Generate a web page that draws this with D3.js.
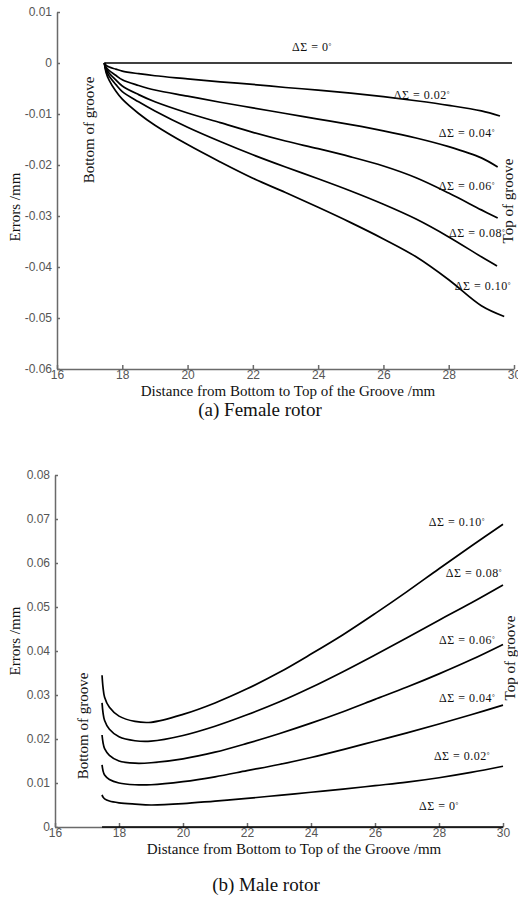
<!DOCTYPE html>
<html>
<head>
<meta charset="utf-8">
<script src="https://cdn.jsdelivr.net/npm/d3@7"></script>
<style>
  body { margin: 0; background: #fff; }
  svg { display: block; }
  .tick text { font-family: "Liberation Sans", Arial, sans-serif; font-size: 12px; fill: #555; }
  .domain, .tick line { stroke: #6a6a6a; stroke-width: 1.5px; }
  .serif { font-family: "Liberation Serif", "Times New Roman", serif; fill: #111; }
</style>
</head>
<body>
<script>
//chart values
var seriesNames = ["0", "0.02", "0.04", "0.06", "0.08", "0.10"];

//(a) female rotor: common x grid, last point of each curve given separately
var femaleX = [17.45, 17.5, 17.6, 17.8, 18, 18.5, 19, 20, 21, 22, 23, 24, 25, 26, 27, 28, 29];
var femaleEndX = [29.94, 29.57, 29.5, 29.5, 29.48, 29.7];
var female0   = [0, 0, 0, 0, 0, 0, 0, 0, 0, 0, 0, 0, 0, 0, 0, 0, 0, 0];
var female002 = [0, -0.0004, -0.0008, -0.0012, -0.0016, -0.0021, -0.0025, -0.0031, -0.0037, -0.0042, -0.0048, -0.0053, -0.0059, -0.0066, -0.0074, -0.0083, -0.0094, -0.0104];
var female004 = [0, -0.0008, -0.0015, -0.0024, -0.0033, -0.0044, -0.0053, -0.0065, -0.0077, -0.0088, -0.0099, -0.011, -0.0121, -0.0133, -0.0147, -0.0164, -0.0186, -0.0204];
var female006 = [0, -0.0011, -0.002, -0.0033, -0.0045, -0.0062, -0.0076, -0.0098, -0.0117, -0.0136, -0.0153, -0.0168, -0.0184, -0.0202, -0.0225, -0.0255, -0.0288, -0.0304];
var female008 = [0, -0.0014, -0.0026, -0.0042, -0.0056, -0.0076, -0.0094, -0.0126, -0.0154, -0.018, -0.0204, -0.0227, -0.0251, -0.0277, -0.0306, -0.0341, -0.038, -0.0398];
var female010 = [0, -0.0018, -0.0034, -0.0055, -0.0071, -0.0099, -0.0122, -0.016, -0.0194, -0.0226, -0.0254, -0.0283, -0.0313, -0.0345, -0.038, -0.0425, -0.0476, -0.0497];
var femaleYTicks = [0.01, 0, -0.01, -0.02, -0.03, -0.04, -0.05, -0.06];
//where each curve label sits, in data units
var femaleLabelX = [23.81, 27.18, 28.56, 28.56, 28.87, 29.05];
var femaleLabelY = [0.0031, -0.0063, -0.0137, -0.0241, -0.0333, -0.0437];

//(b) male rotor
var maleX = [17.47, 17.5, 17.55, 17.7, 18, 18.5, 19, 20, 21, 22, 23, 24, 25, 26, 27, 28, 29, 30];
var male0   = [0, 0, 0, 0, 0, 0, 0, 0, 0, 0, 0, 0, 0, 0, 0, 0, 0, 0];
var male002 = [0.0073, 0.0068, 0.0064, 0.0059, 0.0055, 0.0052, 0.005, 0.0053, 0.0059, 0.0065, 0.0072, 0.0079, 0.0086, 0.0094, 0.0102, 0.0112, 0.0124, 0.0138];
var male004 = [0.0141, 0.0128, 0.0118, 0.0108, 0.01, 0.0096, 0.0096, 0.0103, 0.0114, 0.0128, 0.0142, 0.0158, 0.0176, 0.0195, 0.0214, 0.0234, 0.0255, 0.0277];
var male006 = [0.0209, 0.0192, 0.0178, 0.0163, 0.015, 0.0145, 0.0146, 0.0155, 0.017, 0.019, 0.0212, 0.0236, 0.0262, 0.029, 0.0318, 0.0348, 0.038, 0.0415];
var male008 = [0.0282, 0.026, 0.0242, 0.0222, 0.0205, 0.0196, 0.0195, 0.0208, 0.0229, 0.0255, 0.0284, 0.0317, 0.0353, 0.0391, 0.043, 0.047, 0.0509, 0.055];
var male010 = [0.0345, 0.0318, 0.0295, 0.0272, 0.0252, 0.024, 0.0238, 0.0256, 0.0282, 0.0314, 0.0351, 0.0393, 0.0437, 0.0485, 0.0535, 0.0587, 0.0638, 0.0688];
var maleYTicks = [0, 0.01, 0.02, 0.03, 0.04, 0.05, 0.06, 0.07, 0.08];
var maleLabelX = [28.0, 28.72, 28.88, 28.88, 29.09, 28.56];
var maleLabelY = [0.0048, 0.0161, 0.0293, 0.0425, 0.0577, 0.0693];

var xTicks = [16, 18, 20, 22, 24, 26, 28, 30];

var width = 518,
    height = 901;

var svg = d3.select("body").append("svg")
    .attr("width", width)
    .attr("height", height);

//one panel: axes, curves, labels and captions
function drawPanel(p) {
  var x = d3.scaleLinear().domain([16, 30]).range(p.xRange);
  var y = d3.scaleLinear().domain(p.yDomain).range(p.yRange);
  var g = svg.append("g");

  g.append("g")
    .attr("transform", "translate(0," + p.yRange[0] + ")")
    .call(d3.axisBottom(x).tickValues(xTicks).tickSize(-4).tickSizeOuter(0).tickPadding(1)
      .tickFormat(function(d) { return d; }));

  g.append("g")
    .attr("transform", "translate(" + p.xRange[0] + ",0)")
    .call(d3.axisLeft(y).tickValues(p.yTicks).tickSize(-3).tickSizeOuter(0).tickPadding(5)
      .tickFormat(function(d) { return d === 0 ? "0" : d.toFixed(2); }));

  var line = d3.line()
    .x(function(d) { return x(d[0]); })
    .y(function(d) { return y(d[1]); })
    .curve(d3.curveCatmullRom.alpha(0.5));

  g.selectAll("path.curve")
    .data(p.series)
    .enter().append("path")
    .attr("class", "curve")
    .attr("d", function(d) { return line(d); })
    .style("fill", "none")
    .style("stroke", "#000")
    .style("stroke-width", 1.7);

  //curve labels
  var lab = g.selectAll("text.lab")
    .data(seriesNames)
    .enter().append("text")
    .attr("class", "lab serif")
    .attr("x", function(d, i) { return x(p.labelX[i]); })
    .attr("y", function(d, i) { return y(p.labelY[i]); })
    .attr("dy", "0.35em")
    .attr("text-anchor", "middle")
    .style("font-size", "12px")
    .style("letter-spacing", "0.5px");
  lab.append("tspan").text(function(d) { return "\u0394\u03A3 = " + d; });
  lab.append("tspan").text("\u00B0").attr("dy", "-0.45em").style("font-size", "7px");

  //side notes
  g.append("text").attr("class", "serif")
    .attr("transform", "translate(" + p.bottomAt[0] + "," + p.bottomAt[1] + ") rotate(-90)")
    .attr("text-anchor", "middle").attr("dy", "0.35em")
    .style("font-size", "15px")
    .text("Bottom of groove");
  g.append("text").attr("class", "serif")
    .attr("transform", "translate(" + p.topAt[0] + "," + p.topAt[1] + ") rotate(-90)")
    .attr("text-anchor", "middle").attr("dy", "0.35em")
    .style("font-size", "15px")
    .text("Top of groove");

  g.append("text").attr("class", "serif")
    .attr("transform", "translate(15," + p.yTitleAt + ") rotate(-90)")
    .attr("text-anchor", "middle").attr("dy", "0.35em")
    .style("font-size", "15px")
    .text("Errors /mm");

  g.append("text").attr("class", "serif")
    .attr("x", p.xTitleAt[0]).attr("y", p.xTitleAt[1])
    .attr("text-anchor", "middle").attr("dy", "0.35em")
    .style("font-size", "15px")
    .text("Distance from Bottom to Top of the Groove /mm");

  g.append("text").attr("class", "serif")
    .attr("x", p.captionAt[0]).attr("y", p.captionAt[1])
    .attr("text-anchor", "middle").attr("dy", "0.35em")
    .style("font-size", "19px")
    .text(p.caption);
}

function pairs(xs, ys) {
  return ys.map(function(v, i) { return [xs[i], v]; });
}

var femaleVals = [female0, female002, female004, female006, female008, female010];
var femaleSeries = femaleVals.map(function(v, i) {
  return pairs(femaleX.concat([femaleEndX[i]]), v);
});

var maleVals = [male0, male002, male004, male006, male008, male010];
var maleSeries = maleVals.map(function(v) { return pairs(maleX, v); });

drawPanel({
  xRange: [57, 514], yDomain: [-0.06, 0.01], yRange: [369, 12],
  yTicks: femaleYTicks, series: femaleSeries,
  labelX: femaleLabelX, labelY: femaleLabelY,
  bottomAt: [89, 130], topAt: [508, 201], yTitleAt: 207,
  xTitleAt: [288, 391], captionAt: [260, 409], caption: "(a) Female rotor"
});

drawPanel({
  xRange: [55, 503], yDomain: [0, 0.08], yRange: [827, 475],
  yTicks: maleYTicks, series: maleSeries,
  labelX: maleLabelX, labelY: maleLabelY,
  bottomAt: [83, 726], topAt: [510, 658], yTitleAt: 641,
  xTitleAt: [294, 849], captionAt: [266, 884], caption: "(b) Male rotor"
});
</script>
</body>
</html>
